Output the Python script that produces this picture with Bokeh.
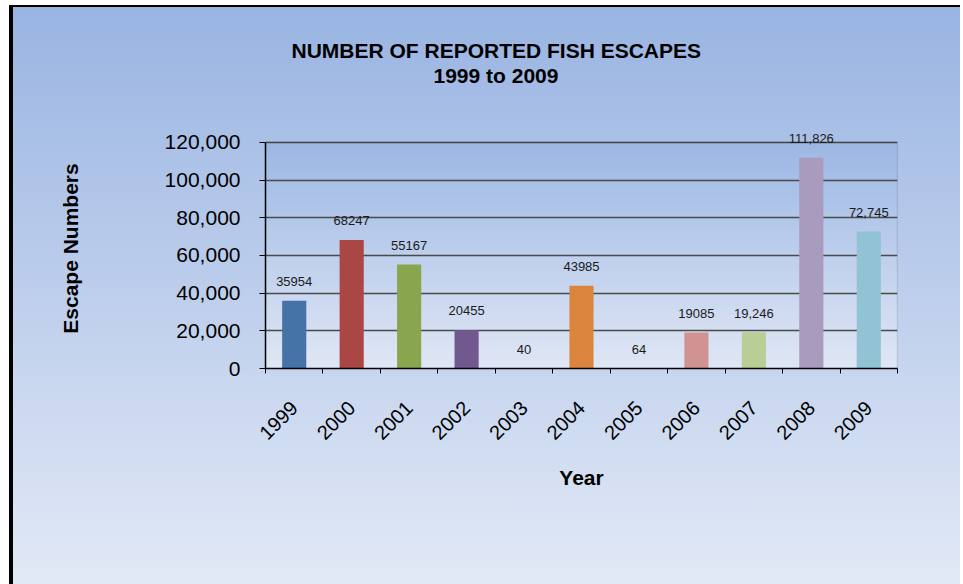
from math import pi

from bokeh.plotting import figure
from bokeh.models import (ColumnDataSource, FactorRange, Range1d, LinearAxis,
                          FixedTicker, NumeralTickFormatter, LabelSet, Title,
                          BoxAnnotation)
from bokeh.core.properties import value
from bokeh.embed import file_html
from bokeh.resources import INLINE

# ---------------- data ----------------
years = ["1999", "2000", "2001", "2002", "2003", "2004",
         "2005", "2006", "2007", "2008", "2009"]
escapes = [35954, 68247, 55167, 20455, 40, 43985, 64, 19085, 19246, 111826, 72745]
value_labels = ["35954", "68247", "55167", "20455", "40", "43985",
                "64", "19085", "19,246", "111,826", "72,745"]
bar_colors = ["#4572A7", "#AA4643", "#89A54E", "#71588F", "#4198AF", "#DB843D",
              "#93A9CF", "#D19392", "#B9CD96", "#A99BBD", "#92C3D5"]
y_ticks = [0, 20000, 40000, 60000, 80000, 100000, 120000]
title_lines = ["NUMBER OF REPORTED FISH ESCAPES", "1999 to 2009"]
x_title = "Year"
y_title = "Escape Numbers"

FONT = "Liberation Sans"
AXIS_MAX = 120000

# ---------------- figure ----------------
# the frame reaches a little above the 120,000 line so the top value label is not clipped
p = figure(width=960, height=584,
           x_range=FactorRange(*years), y_range=Range1d(0, 127400),
           output_backend="svg", toolbar_location=None, tools="",
           min_border_left=265, min_border_right=63,
           min_border_top=128, min_border_bottom=216)

p.background_fill_alpha = 0
p.border_fill_alpha = 0
p.outline_line_color = None

# outer chart-area background (gradient + black frame edges) via CSS
p.styles = {
    "background": (
        "linear-gradient(#000,#000) 9px 5px / 4px calc(100% - 5px) no-repeat, "
        "linear-gradient(#000,#000) 9px 5px / calc(100% - 9px) 2px no-repeat, "
        "linear-gradient(to bottom, #99b4e2, #e2e9f6) 9px 5px / calc(100% - 9px) calc(100% - 5px) no-repeat, "
        "#ffffff"
    )
}

# plot-area vertical gradient (styling bands)
top_rgb = (0x9c, 0xb7, 0xe4)
bot_rgb = (0xe0, 0xe7, 0xf5)
n_bands = 60
for i in range(n_bands):
    f = (i + 0.5) / n_bands
    c = tuple(round(bot_rgb[k] + (top_rgb[k] - bot_rgb[k]) * f) for k in range(3))
    p.add_layout(BoxAnnotation(bottom=AXIS_MAX * i / n_bands,
                               top=min(AXIS_MAX, AXIS_MAX * (i + 1.6) / n_bands),
                               fill_color="#%02x%02x%02x" % c, fill_alpha=1,
                               line_color=None, level="image"))

# plot-area border
p.add_layout(BoxAnnotation(bottom=0, top=AXIS_MAX, fill_alpha=0,
                           line_color="#3a3a3a", line_width=1.2, level="underlay"))

# grid
p.xgrid.visible = False
p.ygrid.ticker = FixedTicker(ticks=y_ticks)
p.ygrid.grid_line_color = "#4a4a4a"
p.ygrid.grid_line_width = 1.3

# y axis
ya = p.yaxis[0]
ya.ticker = FixedTicker(ticks=y_ticks)
ya.formatter = NumeralTickFormatter(format="0,0")
ya.bounds = (0, AXIS_MAX)
ya.axis_line_color = "black"
ya.axis_line_width = 1.5
ya.major_tick_out = 6
ya.major_tick_in = 0
ya.major_tick_line_color = "black"
ya.minor_tick_out = 0
ya.minor_tick_in = 0
ya.major_label_text_font = FONT
ya.major_label_text_font_size = "21px"
ya.major_label_text_color = "black"
ya.major_label_standoff = 19
ya.axis_label = y_title
ya.axis_label_text_font = FONT
ya.axis_label_text_font_size = "21px"
ya.axis_label_text_font_style = "bold"
ya.axis_label_text_color = "black"
ya.axis_label_standoff = 80

# x axis: boundary ticks between categories (category slots 0..N on the factor range)
tick_axis = LinearAxis(ticker=FixedTicker(ticks=list(range(len(years) + 1))),
                       major_label_overrides={i: "" for i in range(len(years) + 1)},
                       major_label_text_font_size="1px",
                       major_label_standoff=0,
                       major_tick_out=5, major_tick_in=0,
                       minor_tick_out=0, minor_tick_in=0,
                       axis_line_color="black", axis_line_width=1.5,
                       major_tick_line_color="black")

xa = p.xaxis[0]
xa.axis_line_color = None
xa.major_tick_out = 0
xa.major_tick_in = 0
xa.major_label_orientation = pi / 4
xa.major_label_text_font = FONT
xa.major_label_text_font_size = "20px"
xa.major_label_text_color = "black"
xa.major_label_standoff = 31
xa.axis_label = x_title
xa.axis_label_text_font = FONT
xa.axis_label_text_font_size = "21px"
xa.axis_label_text_font_style = "bold"
xa.axis_label_text_color = "black"
xa.axis_label_standoff = 17

p.below = [tick_axis] + list(p.below)

# bars
src = ColumnDataSource(dict(year=years, escapes=escapes, label=value_labels, color=bar_colors))
p.vbar(x="year", top="escapes", width=0.42, source=src,
       fill_color="color", line_color=None)

# value labels
p.add_layout(LabelSet(x="year", y="escapes", text="label", source=src,
                      y_offset=19, text_align="center", text_baseline="middle",
                      text_font=value(FONT), text_font_size=value("13px"),
                      text_color="#1a1a1a"))

# chart title: a blank spacer nearest the plot, then the two title lines
p.add_layout(Title(text=" ", standoff=17, text_font=FONT, text_font_size="21px"), "above")
p.add_layout(Title(text=title_lines[1], align="left", offset=168, standoff=0,
                   text_font=FONT, text_font_size="21px", text_font_style="bold",
                   text_color="black"), "above")
p.add_layout(Title(text=title_lines[0], align="left", offset=26, standoff=0,
                   text_font=FONT, text_font_size="21px", text_font_style="bold",
                   text_color="black"), "above")

open("out.html", "w").write(file_html(p, INLINE))
